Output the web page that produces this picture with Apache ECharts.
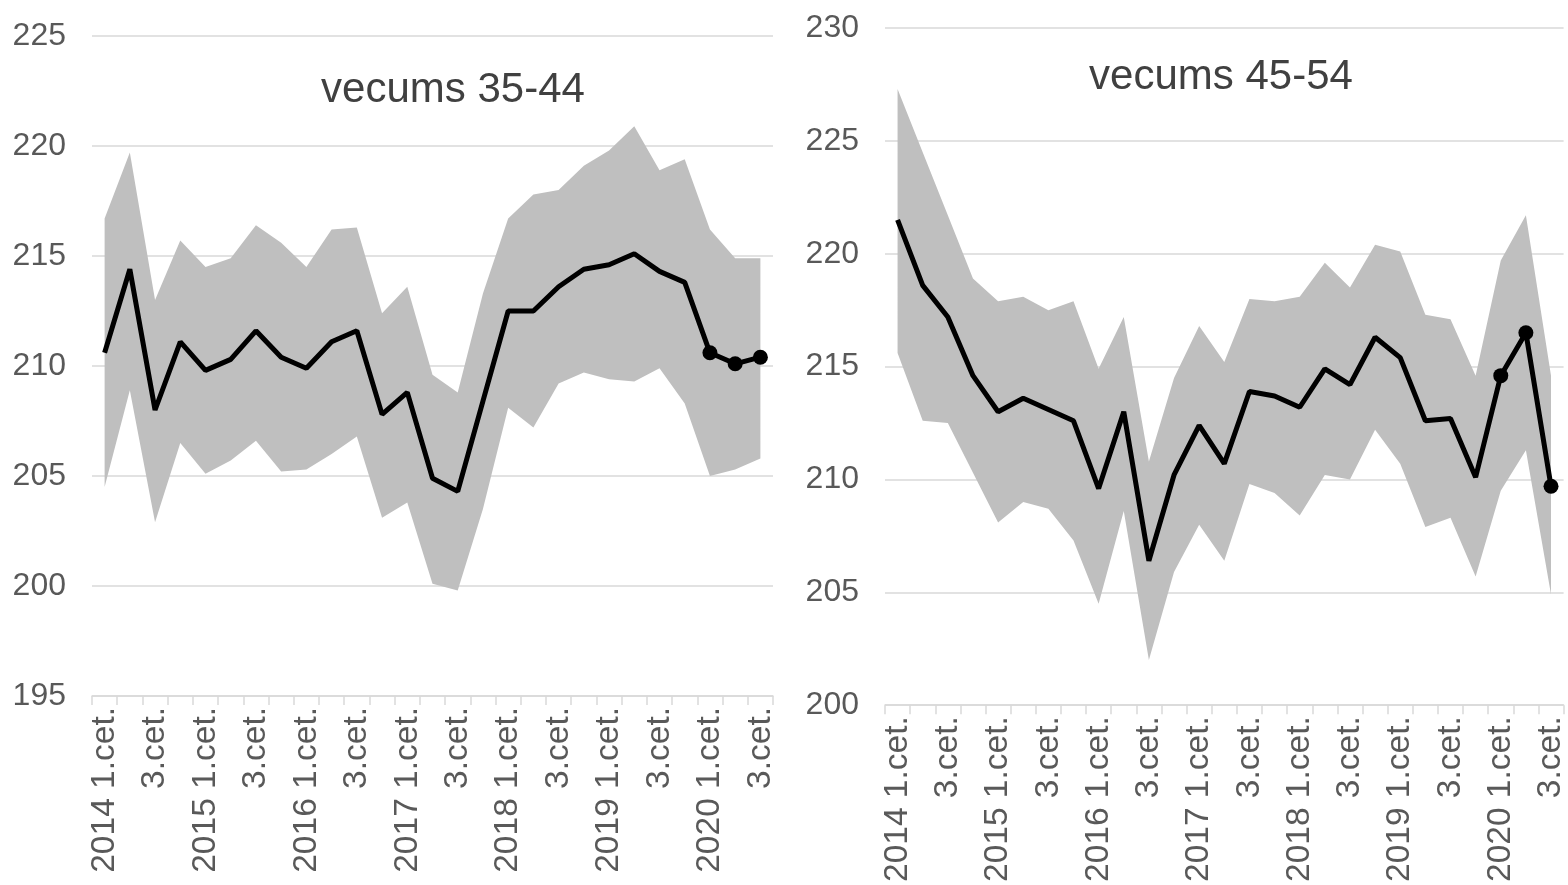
<!DOCTYPE html>
<html>
<head>
<meta charset="utf-8">
<script src="https://cdn.jsdelivr.net/npm/echarts@6/dist/echarts.min.js"></script>
<style>
  html, body { margin: 0; padding: 0; background: #fff; }
  #chart { width: 1568px; height: 885px; }
</style>
</head>
<body>
<div id="chart"></div>
<script>
// kategorijas: 2014 1.cet. ... 2020 3.cet.
var categories = [
  '2014 1.cet.', '2.cet.', '3.cet.', '4.cet.',
  '2015 1.cet.', '2.cet.', '3.cet.', '4.cet.',
  '2016 1.cet.', '2.cet.', '3.cet.', '4.cet.',
  '2017 1.cet.', '2.cet.', '3.cet.', '4.cet.',
  '2018 1.cet.', '2.cet.', '3.cet.', '4.cet.',
  '2019 1.cet.', '2.cet.', '3.cet.', '4.cet.',
  '2020 1.cet.', '2.cet.', '3.cet.'
];

// vecums 35-44
var mid3544 = [210.6, 214.4, 208.0, 211.1, 209.8, 210.3, 211.6, 210.4, 209.9, 211.1, 211.6, 207.8, 208.8, 204.9,
  204.3, 208.4, 212.5, 212.5, 213.6, 214.4, 214.6, 215.1, 214.3, 213.8, 210.6, 210.1, 210.4];
var upper3544 = [216.7, 219.7, 213.0, 215.7, 214.5, 214.9, 216.4, 215.6, 214.5, 216.2, 216.3, 212.4, 213.6, 209.6,
  208.8, 213.3, 216.7, 217.8, 218.0, 219.1, 219.8, 220.9, 218.9, 219.4, 216.2, 214.9, 214.9];
var lower3544 = [204.5, 208.9, 202.9, 206.5, 205.1, 205.7, 206.6, 205.2, 205.3, 206.0, 206.8, 203.1, 203.8, 200.1,
  199.8, 203.5, 208.1, 207.2, 209.2, 209.7, 209.4, 209.3, 209.9, 208.3, 205.0, 205.3, 205.8];

// vecums 45-54
var mid4554 = [221.5, 218.6, 217.2, 214.6, 213.0, 213.6, 213.1, 212.6, 209.6, 213.0, 206.4, 210.2, 212.4, 210.7,
  213.9, 213.7, 213.2, 214.9, 214.2, 216.3, 215.4, 212.6, 212.7, 210.1, 214.6, 216.5, 209.7];
var upper4554 = [227.3, 224.5, 221.7, 218.9, 217.9, 218.1, 217.5, 217.9, 214.9, 217.2, 210.8, 214.5, 216.8, 215.2,
  218.0, 217.9, 218.1, 219.6, 218.5, 220.4, 220.1, 217.3, 217.1, 214.6, 219.7, 221.7, 214.6];
var lower4554 = [215.6, 212.6, 212.5, 210.3, 208.1, 209.0, 208.7, 207.3, 204.5, 208.6, 202.0, 205.9, 208.0, 206.4,
  209.8, 209.4, 208.4, 210.2, 210.0, 212.2, 210.7, 207.9, 208.3, 205.7, 209.5, 211.3, 204.9];

var yTicks3544 = [195, 225, 5];
var yTicks4554 = [200, 230, 5];
var markerFrom = 24; // punkti ar marķieriem

var fontName = 'Liberation Sans, Arial, sans-serif';
var labelColor = '#595959';

var myChart = echarts.init(document.getElementById('chart'));

function xAxisFor(idx) {
  return {
    type: 'category',
    gridIndex: idx,
    data: categories,
    boundaryGap: true,
    axisLine: { lineStyle: { color: '#d9d9d9', width: 1.5 } },
    axisTick: { show: true, interval: 0, length: 9, lineStyle: { color: '#d9d9d9', width: 1.5 } },
    axisLabel: {
      interval: 1,
      rotate: 90,
      margin: 11,
      color: labelColor,
      fontSize: 33.5,
      fontFamily: fontName
    },
    splitLine: { show: false }
  };
}

function yAxisFor(idx, ticks) {
  return {
    type: 'value',
    gridIndex: idx,
    min: ticks[0],
    max: ticks[1],
    interval: ticks[2],
    axisLine: { show: false },
    axisTick: { show: false },
    axisLabel: { color: labelColor, fontSize: 32, fontFamily: fontName, margin: 26 },
    splitLine: { lineStyle: { color: '#d9d9d9', width: 1.5 } }
  };
}

function bandSeries(idx, lower, upper, name) {
  var diff = upper.map(function (u, i) { return +(u - lower[i]).toFixed(2); });
  return [
    {
      name: name + ' lower',
      type: 'line',
      xAxisIndex: idx, yAxisIndex: idx,
      stack: 'band' + idx,
      data: lower,
      symbol: 'none',
      lineStyle: { opacity: 0 },
      silent: true,
      z: 1
    },
    {
      name: name + ' band',
      type: 'line',
      xAxisIndex: idx, yAxisIndex: idx,
      stack: 'band' + idx,
      data: diff,
      symbol: 'none',
      lineStyle: { opacity: 0 },
      areaStyle: { color: '#bfbfbf', opacity: 1 },
      silent: true,
      z: 2
    }
  ];
}

function midSeries(idx, data, name) {
  return {
    name: name,
    type: 'line',
    xAxisIndex: idx, yAxisIndex: idx,
    data: data,
    showSymbol: true,
    symbol: function (v, p) { return p.dataIndex >= markerFrom ? 'circle' : 'none'; },
    symbolSize: 15,
    itemStyle: { color: '#000' },
    lineStyle: { color: '#000', width: 5 },
    z: 5
  };
}

var option = {
  backgroundColor: '#ffffff',
  animation: false,
  title: [
    {
      text: 'vecums 35-44',
      left: 448, top: 64,
      textAlign: 'center',
      textStyle: { color: '#404040', fontSize: 42, fontWeight: 'normal', fontFamily: fontName }
    },
    {
      text: 'vecums 45-54',
      left: 1216, top: 51,
      textAlign: 'center',
      textStyle: { color: '#404040', fontSize: 42, fontWeight: 'normal', fontFamily: fontName }
    }
  ],
  grid: [
    { left: 92, top: 36, width: 681, height: 660 },
    { left: 885, top: 28, width: 680, height: 680 }
  ],
  xAxis: [xAxisFor(0), xAxisFor(1)],
  yAxis: [yAxisFor(0, yTicks3544), yAxisFor(1, yTicks4554)],
  series: [].concat(
    bandSeries(0, lower3544, upper3544, '35-44'),
    [midSeries(0, mid3544, 'vecums 35-44')],
    bandSeries(1, lower4554, upper4554, '45-54'),
    [midSeries(1, mid4554, 'vecums 45-54')]
  )
};

myChart.setOption(option);
</script>
</body>
</html>
